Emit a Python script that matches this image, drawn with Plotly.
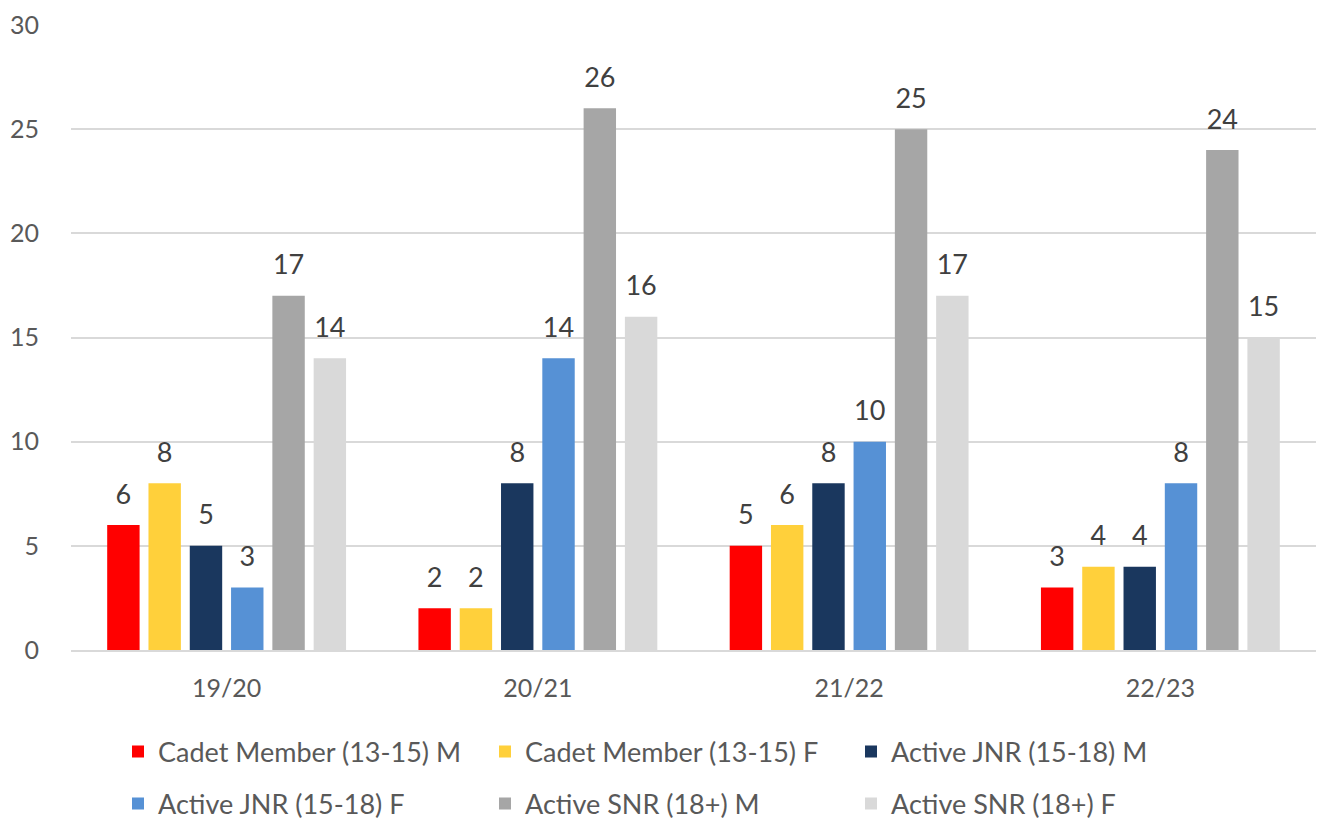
import plotly.graph_objects as go

categories = ["19/20", "20/21", "21/22", "22/23"]
series_names = [
    "Cadet Member (13-15) M",
    "Cadet Member (13-15) F",
    "Active JNR (15-18) M",
    "Active JNR (15-18) F",
    "Active SNR (18+) M",
    "Active SNR (18+) F",
]
cadet_m = [6, 2, 5, 3]
cadet_f = [8, 2, 6, 4]
jnr_m = [5, 8, 8, 4]
jnr_f = [3, 14, 10, 8]
snr_m = [17, 26, 25, 24]
snr_f = [14, 16, 17, 15]
colors = ["#FF0000", "#FFD03B", "#1A375E", "#5691D5", "#A6A6A6", "#D9D9D9"]

values = [cadet_m, cadet_f, jnr_m, jnr_f, snr_m, snr_f]
FONT = "Lato, Open Sans, sans-serif"
W, H = 1323, 821

# legend anchor points in page pixels
legend_px = [(118, 752), (485, 752), (851, 752), (118, 804), (485, 804), (851, 804)]

fig = go.Figure()
for i, (name, vals, col) in enumerate(zip(series_names, values, colors)):
    lg = "legend" if i == 0 else f"legend{i + 1}"
    fig.add_trace(go.Bar(
        x=categories, y=vals, name=name,
        marker=dict(color=col, line=dict(width=0)),
        offsetgroup=str(i), alignmentgroup="a",
        legend=lg, hoverinfo="x+y+name",
    ))
    fig.add_trace(go.Scatter(
        x=categories, y=vals, mode="markers+text",
        text=[str(v) for v in vals], textposition="top center",
        textfont=dict(size=27, color="#404040", family=FONT),
        marker=dict(size=22, color="rgba(0,0,0,0)"),
        offsetgroup=str(i), alignmentgroup="a",
        showlegend=False, hoverinfo="skip", cliponaxis=False,
    ))

layout_legends = {}
for i, (px, py) in enumerate(legend_px):
    key = "legend" if i == 0 else f"legend{i + 1}"
    layout_legends[key] = dict(
        xref="container", yref="container",
        x=px / W, xanchor="left", y=1 - py / H, yanchor="middle",
        orientation="h", bgcolor="rgba(0,0,0,0)", borderwidth=0,
        font=dict(size=27, color="#595959", family=FONT),
    )

fig.update_layout(
    width=W, height=H,
    paper_bgcolor="white", plot_bgcolor="white",
    margin=dict(l=71, r=7, t=25, b=171, autoexpand=False),
    barmode="group", bargap=0.204, bargroupgap=0.215,
    scattermode="group", scattergap=0.204,
    font=dict(family=FONT, color="#595959", size=25),
    showlegend=True,
    **layout_legends,
)
fig.update_xaxes(
    showgrid=False, showline=True, linecolor="#D9D9D9", linewidth=1.5,
    ticks="", tickfont=dict(size=25, color="#595959"), ticklabelstandoff=15,
    automargin=False,
)
fig.update_yaxes(
    range=[0, 30], dtick=5, showgrid=True, gridcolor="#D9D9D9", gridwidth=1.5,
    zeroline=False, showline=False, ticks="",
    tickfont=dict(size=25, color="#595959"), ticklabelstandoff=31,
    automargin=False,
)

fig.write_html(
    "out.html",
    config={"displayModeBar": False},
    post_script="document.body.style.margin='0';document.body.style.overflow='hidden';",
)
